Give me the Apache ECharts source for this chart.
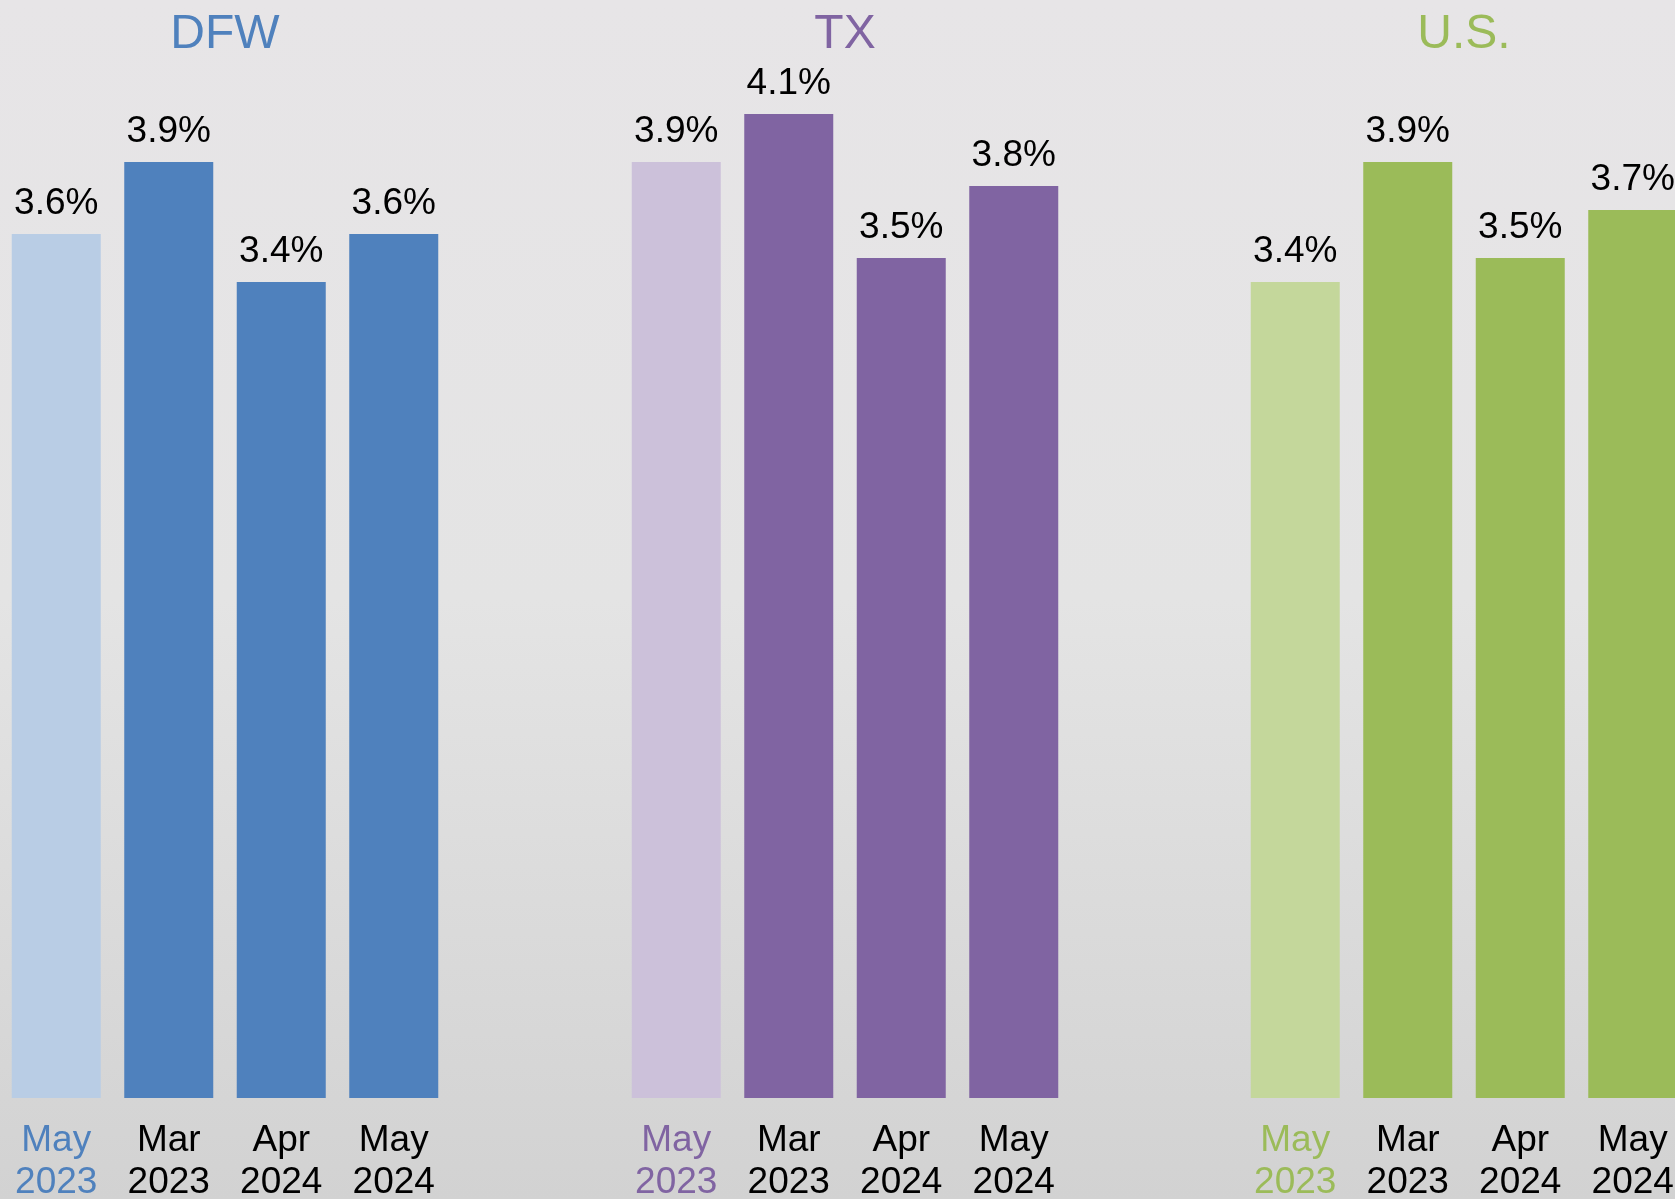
<!DOCTYPE html>
<html>
<head>
<meta charset="utf-8">
<script src="https://cdn.jsdelivr.net/npm/echarts@6/dist/echarts.min.js"></script>
<style>
  html, body { margin: 0; padding: 0; }
  #chart { width: 1675px; height: 1199px; }
</style>
</head>
<body>
<div id="chart"></div>
<script>
// unemployment rate, %
const categories = ['May\n2023', 'Mar\n2023', 'Apr\n2024', 'May\n2024'];
const regions = ['DFW', 'TX', 'U.S.'];
const dfwValues = [3.6, 3.9, 3.4, 3.6];
const txValues = [3.9, 4.1, 3.5, 3.8];
const usValues = [3.4, 3.9, 3.5, 3.7];

const panels = [
  { name: regions[0], values: dfwValues, dark: '#4F81BD', light: '#B9CDE5', left: 0 },
  { name: regions[1], values: txValues, dark: '#8064A2', light: '#CCC1DA', left: 620 },
  { name: regions[2], values: usValues, dark: '#9BBB59', light: '#C4D79B', left: 1239 },
];

const W = 1675;
const font = 'Arial, "Liberation Sans", sans-serif';
const chart = echarts.init(document.getElementById('chart'));

const grid = [], xAxis = [], yAxis = [], series = [], title = [];
panels.forEach((p, i) => {
  // last panel runs past the right edge, like the source slide
  grid.push({
    left: p.left, right: W - (p.left + 450), top: 18, bottom: 101,
    outerBoundsMode: 'none',
  });
  title.push({
    text: p.name,
    left: p.left + 225,
    textAlign: 'center',
    top: 11,
    padding: 0,
    textStyle: { color: p.dark, fontSize: 48, fontWeight: 'normal', fontFamily: font },
  });
  xAxis.push({
    type: 'category',
    gridIndex: i,
    data: categories,
    axisLine: { show: false },
    axisTick: { show: false },
    axisLabel: {
      margin: 22,
      fontSize: 37,
      lineHeight: 42,
      fontFamily: font,
      color: (v, idx) => (idx === 0 ? p.dark : '#000'),
    },
  });
  yAxis.push({
    type: 'value',
    gridIndex: i,
    min: 0,
    max: 4.5,
    show: false,
    splitLine: { show: false },
  });
  series.push({
    type: 'bar',
    xAxisIndex: i,
    yAxisIndex: i,
    barWidth: 89,
    data: p.values.map((v, k) => ({
      value: v,
      itemStyle: { color: k === 0 ? p.light : p.dark },
    })),
    label: {
      show: true,
      position: 'top',
      distance: 12,
      formatter: (d) => d.value.toFixed(1) + '%',
      fontSize: 37,
      fontFamily: font,
      color: '#000',
    },
  });
});

chart.setOption({
  animation: false,
  backgroundColor: new echarts.graphic.LinearGradient(0, 0, 0, 1, [
    { offset: 0, color: '#E7E5E7' },
    { offset: 0.5, color: '#E4E4E4' },
    { offset: 1, color: '#D2D2D2' },
  ]),
  title,
  grid,
  xAxis,
  yAxis,
  series,
});
</script>
</body>
</html>
